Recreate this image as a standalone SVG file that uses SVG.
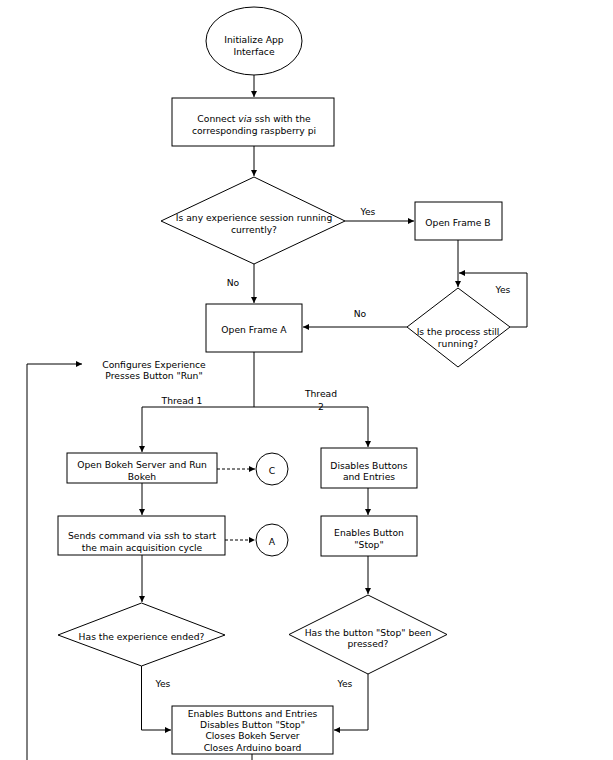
<svg xmlns="http://www.w3.org/2000/svg" width="613" height="760" viewBox="0 0 613 760">
<style>
.s{fill:#fff;stroke:#000;stroke-width:1}
.c{fill:none;stroke:#000;stroke-width:1}
.d{fill:none;stroke:#000;stroke-width:1;stroke-dasharray:3 2}
text{font-family:"DejaVu Sans",Verdana,sans-serif;font-size:9.2px;fill:#000;text-anchor:middle;dominant-baseline:central}
</style>
<defs>
<marker id="a" viewBox="0 0 8 8" refX="7" refY="4" markerWidth="7" markerHeight="7" markerUnits="userSpaceOnUse" orient="auto">
<path d="M0,0.5 L7,4 L0,7.5 Z" fill="#000"/>
</marker>
</defs>
<rect width="613" height="760" fill="#fff"/>
<g id="connectors">
<path class="c" d="M254,75 V97" marker-end="url(#a)"/>
<path class="c" d="M254,146 V176" marker-end="url(#a)"/>
<path class="c" d="M345,221 H414" marker-end="url(#a)"/>
<path class="c" d="M254,264 V303" marker-end="url(#a)"/>
<path class="c" d="M458,240 V287" marker-end="url(#a)"/>
<path class="c" d="M510,327 H527 V273 H459" marker-end="url(#a)"/>
<path class="c" d="M407,327 H303" marker-end="url(#a)"/>
<path class="c" d="M254,352 V407"/>
<path class="c" d="M254,407 H142 V452" marker-end="url(#a)"/>
<path class="c" d="M254,407 H368 V447" marker-end="url(#a)"/>
<path class="d" d="M217,469 H255" marker-end="url(#a)"/>
<path class="c" d="M142,483 V515" marker-end="url(#a)"/>
<path class="d" d="M225,540 H255" marker-end="url(#a)"/>
<path class="c" d="M142,555 V602" marker-end="url(#a)"/>
<path class="c" d="M368,488 V515" marker-end="url(#a)"/>
<path class="c" d="M368,556 V594" marker-end="url(#a)"/>
<path class="c" d="M141.5,666 V730 H171" marker-end="url(#a)"/>
<path class="c" d="M368,674 V730 H334" marker-end="url(#a)"/>
<path class="c" d="M252,754 V760"/>
<path class="c" d="M27,760 V364 H82" marker-end="url(#a)"/>
<text x="368" y="211">Yes</text>
<text x="233" y="282">No</text>
<text x="503" y="289">Yes</text>
<text x="360" y="313">No</text>
<text x="182" y="400">Thread 1</text>
<text x="321" y="393">Thread</text>
<text x="321" y="406">2</text>
<text x="163" y="683">Yes</text>
<text x="345" y="683">Yes</text>
</g>
<g id="start">
<ellipse class="s" cx="254" cy="41" rx="48" ry="34"/>
<text x="254" y="39">Initialize App</text>
<text x="254" y="51">Interface</text>
</g>
<g id="connect">
<rect class="s" x="172" y="98" width="162" height="48"/>
<text x="254" y="118">Connect <tspan font-style="italic">via</tspan> ssh with the</text>
<text x="254" y="130">corresponding raspberry pi</text>
</g>
<g id="decision1">
<path class="s" d="M254,177 L345,221 L254,264 L161,221 Z"/>
<text x="254" y="217">Is any experience session running</text>
<text x="254" y="229">currently?</text>
</g>
<g id="frameB">
<rect class="s" x="415" y="202" width="87" height="38"/>
<text x="458" y="222">Open Frame B</text>
</g>
<g id="decision2">
<path class="s" d="M458,288 L510,327 L458,367 L407,327 Z"/>
<text x="458" y="331">Is the process still</text>
<text x="458" y="343">running?</text>
</g>
<g id="frameA">
<rect class="s" x="206" y="304" width="96" height="48"/>
<text x="254" y="329">Open Frame A</text>
</g>
<g id="configure">
<text x="154" y="364">Configures Experience</text>
<text x="154" y="375">Presses Button "Run"</text>
</g>
<g id="bokeh">
<rect class="s" x="67" y="453" width="150" height="30"/>
<text x="142" y="464">Open Bokeh Server and Run</text>
<text x="142" y="476">Bokeh</text>
</g>
<g id="circleC">
<circle class="s" cx="272" cy="469" r="16"/>
<text x="272" y="470">C</text>
</g>
<g id="sends">
<rect class="s" x="58" y="516" width="167" height="39"/>
<text x="142" y="535">Sends command via ssh to start</text>
<text x="142" y="547">the main acquisition cycle</text>
</g>
<g id="circleA">
<circle class="s" cx="272" cy="540" r="16"/>
<text x="272" y="541">A</text>
</g>
<g id="disables">
<rect class="s" x="321" y="448" width="96" height="40"/>
<text x="369" y="465">Disables Buttons</text>
<text x="369" y="476">and Entries</text>
</g>
<g id="enables">
<rect class="s" x="321" y="516" width="96" height="40"/>
<text x="369" y="532">Enables Button</text>
<text x="369" y="544">"Stop"</text>
</g>
<g id="decision3">
<path class="s" d="M141.5,603 L225,635 L141.5,666 L58,635 Z"/>
<text x="141.5" y="636">Has the experience ended?</text>
</g>
<g id="decision4">
<path class="s" d="M368,595 L447,634.5 L368,674 L289,634.5 Z"/>
<text x="368" y="632">Has the button "Stop" been</text>
<text x="368" y="643">pressed?</text>
</g>
<g id="final">
<rect class="s" x="172" y="706" width="161" height="48"/>
<text x="252.5" y="713">Enables Buttons and Entries</text>
<text x="252.5" y="724.5">Disables Button "Stop"</text>
<text x="252.5" y="735.5">Closes Bokeh Server</text>
<text x="252.5" y="747">Closes Arduino board</text>
</g>
</svg>
